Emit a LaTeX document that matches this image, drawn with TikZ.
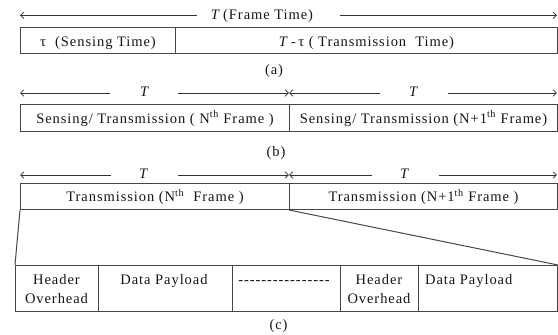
\documentclass[tikz,border=0pt]{standalone}
\usepackage{fontspec}
\setmainfont{Liberation Serif}[LetterSpace=6.5]
\usetikzlibrary{arrows.meta}
\definecolor{boxline}{HTML}{474747}
\definecolor{dimline}{HTML}{333333}
\definecolor{ink}{HTML}{151515}
\begin{document}
\begin{tikzpicture}[x=1pt,y=-1pt,
  font=\fontsize{14.5}{19}\selectfont,
  cell/.style={draw=boxline,line width=1pt,inner sep=0pt,anchor=north west},
  txt/.style={text=ink,inner sep=0pt,anchor=base},
  dim/.style={draw=dimline,line width=0.7pt},
  tip/.tip={Straight Barb[length=3.5pt,width=6.5pt]}]
\useasboundingbox (0,0) rectangle (558,335);

% ---- (a) ----
\node[cell,minimum width=155pt,minimum height=26pt] (a1) at (20,27) {};
\node[cell,minimum width=382pt,minimum height=26pt] (a2) at (175,27) {};
\node[txt,yshift=-5.5pt] (ta1) at (a1.center) {τ\ \ (Sensing Time)};
\node[txt,yshift=-5.5pt] (ta2) at (a2.center) {\textit{T}\,-\,τ\ ( Transmission\ \ Time)};
\coordinate (aL) at (20,15.3);
\coordinate (aL2) at (197,15.3);
\coordinate (aR2) at (340,15.3);
\coordinate (aR) at (557,15.3);
\node[txt] (Ta) at (262,19) {\textit{T}\,(Frame Time)};
\draw[dim,tip-] (aL) -- (aL2);
\draw[dim,-tip] (aR2) -- (aR);
\node[txt] (la) at (274,74) {(a)};

% ---- (b) ----
\node[cell,minimum width=269pt,minimum height=27pt] (b1) at (20,104) {};
\node[cell,minimum width=268pt,minimum height=27pt] (b2) at (289,104) {};
\node[txt,yshift=-5pt] (tb1) at (b1.center) {Sensing/ Transmission\ ( N\textsuperscript{th}\ Frame )};
\node[txt,yshift=-5pt] (tb2) at (b2.center) {Sensing/ Transmission\ (N+1\textsuperscript{th}\ Frame)};
\coordinate (bL) at (20,93);
\coordinate (bL2) at (110,93);
\coordinate (bL3) at (178,93);
\coordinate (bM) at (289,93);
\coordinate (bR1) at (380,93);
\coordinate (bR2) at (448,93);
\coordinate (bR) at (557,93);
\node[txt] (Tb1) at (145,96) {\textit{T}};
\node[txt] (Tb2) at (414,96) {\textit{T}};
\draw[dim,tip-] (bL) -- (bL2);
\draw[dim,-tip] (bL3) -- (bM);
\draw[dim,tip-] (bM) -- (bR1);
\draw[dim,-tip] (bR2) -- (bR);
\node[txt] (lb) at (276,156) {(b)};

% ---- (c) ----
\node[cell,minimum width=269pt,minimum height=26pt] (c1) at (20,183) {};
\node[cell,minimum width=268pt,minimum height=26pt] (c2) at (289,183) {};
\node[txt,yshift=-5pt] (tc1) at (c1.center) {Transmission\ (N\textsuperscript{th}\ \ Frame )};
\node[txt,yshift=-5pt] (tc2) at (c2.center) {Transmission\ (N+1\textsuperscript{th} Frame\ )};
\coordinate (cL) at (20,175);
\coordinate (cL2) at (111,175);
\coordinate (cL3) at (178,175);
\coordinate (cM) at (289,175);
\coordinate (cR1) at (372,175);
\coordinate (cR2) at (439,175);
\coordinate (cR) at (557,175);
\node[txt] (Tc1) at (144,178) {\textit{T}};
\node[txt] (Tc2) at (405,178) {\textit{T}};
\draw[dim,tip-] (cL) -- (cL2);
\draw[dim,-tip] (cL3) -- (cM);
\draw[dim,tip-] (cM) -- (cR1);
\draw[dim,-tip] (cR2) -- (cR);

% ---- packet ----
\node[cell,minimum width=83pt,minimum height=46pt] (d1) at (15,265) {};
\node[cell,minimum width=134pt,minimum height=46pt] (d2) at (98,265) {};
\node[cell,minimum width=108pt,minimum height=46pt] (d3) at (232,265) {};
\node[cell,minimum width=78pt,minimum height=46pt] (d4) at (340,265) {};
\node[cell,minimum width=139pt,minimum height=46pt] (d5) at (418,265) {};
\draw[boxline,line width=1pt] (c1.south west) -- (d1.north west);
\draw[boxline,line width=1pt] (c2.south west) -- (d5.north east);
\node[txt,align=center] (td1) at (56.5,303) {Header\\Overhead};
\node[txt] (td2) at (164,284) {Data Payload};
\node[txt] (td3) at (284,284) {-{}-{}-{}-{}-{}-{}-{}-{}-{}-{}-{}-{}-{}-{}-{}-};
\node[txt,align=center] (td4) at (379,303) {Header\\Overhead};
\node[txt,anchor=base west] (td5) at (425,284) {Data Payload};
\node[txt] (lc) at (278.5,329) {(c)};
\end{tikzpicture}
\end{document}
